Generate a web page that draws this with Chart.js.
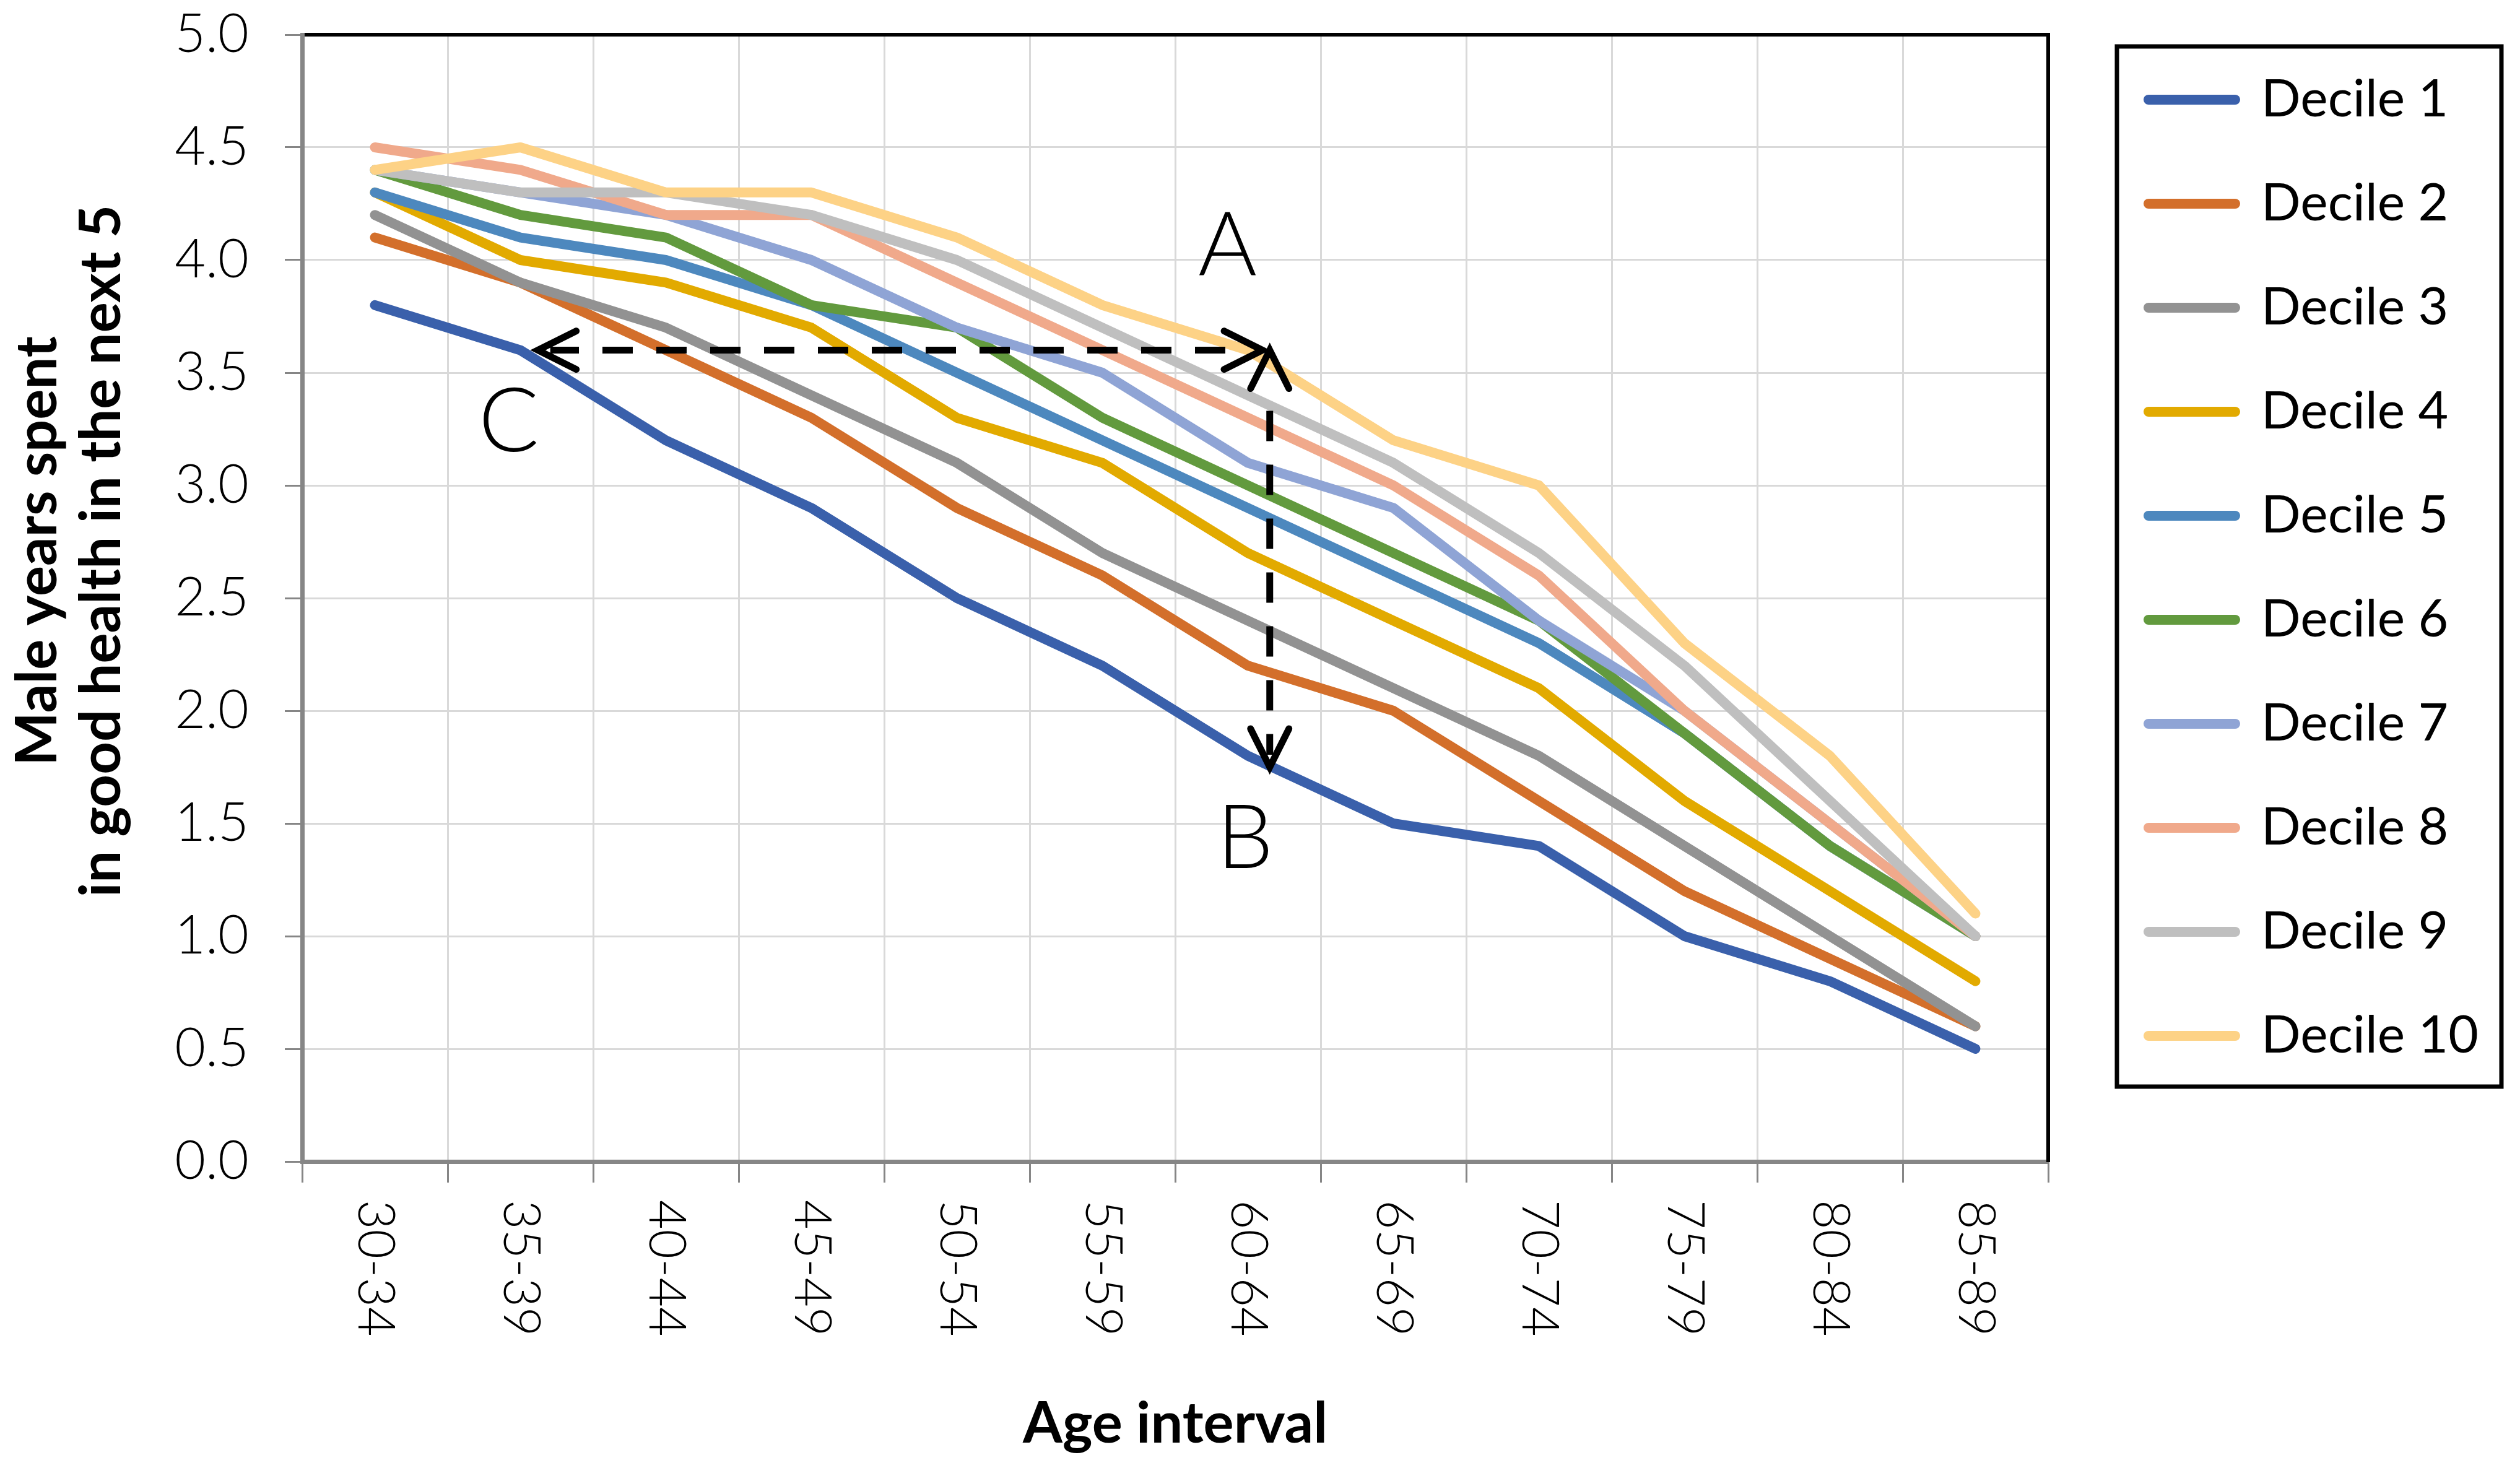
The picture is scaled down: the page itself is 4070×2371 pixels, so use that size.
<!DOCTYPE html>
<html>
<head>
<meta charset="utf-8">
<script src="https://cdn.jsdelivr.net/npm/chart.js@4.4.1/dist/chart.umd.min.js"></script>
<style>
  html, body { margin: 0; padding: 0; background: #fff; }
  canvas { display: block; }
</style>
</head>
<body>
<canvas id="chart" width="4070" height="2371"></canvas>
<script>
// categories and series
const ageIntervals = ["30-34", "35-39", "40-44", "45-49", "50-54", "55-59", "60-64", "65-69", "70-74", "75-79", "80-84", "85-89"];
const seriesNames = ["Decile 1", "Decile 2", "Decile 3", "Decile 4", "Decile 5", "Decile 6", "Decile 7", "Decile 8", "Decile 9", "Decile 10"];

const decile1 = [3.8, 3.6, 3.2, 2.9, 2.5, 2.2, 1.8, 1.5, 1.4, 1.0, 0.8, 0.5];
const decile2 = [4.1, 3.9, 3.6, 3.3, 2.9, 2.6, 2.2, 2.0, 1.6, 1.2, 0.9, 0.6];
const decile3 = [4.2, 3.9, 3.7, 3.4, 3.1, 2.7, 2.4, 2.1, 1.8, 1.4, 1.0, 0.6];
const decile4 = [4.3, 4.0, 3.9, 3.7, 3.3, 3.1, 2.7, 2.4, 2.1, 1.6, 1.2, 0.8];
const decile5 = [4.3, 4.1, 4.0, 3.8, 3.5, 3.2, 2.9, 2.6, 2.3, 1.9, 1.4, 1.0];
const decile6 = [4.4, 4.2, 4.1, 3.8, 3.7, 3.3, 3.0, 2.7, 2.4, 1.9, 1.4, 1.0];
const decile7 = [4.4, 4.3, 4.2, 4.0, 3.7, 3.5, 3.1, 2.9, 2.4, 2.0, 1.5, 1.0];
const decile8 = [4.5, 4.4, 4.2, 4.2, 3.9, 3.6, 3.3, 3.0, 2.6, 2.0, 1.5, 1.0];
const decile9 = [4.4, 4.3, 4.3, 4.2, 4.0, 3.7, 3.4, 3.1, 2.7, 2.2, 1.6, 1.0];
const decile10 = [4.4, 4.5, 4.3, 4.3, 4.1, 3.8, 3.6, 3.2, 3.0, 2.3, 1.8, 1.1];

const yTickValues = [0, 0.5, 1.0, 1.5, 2.0, 2.5, 3.0, 3.5, 4.0, 4.5, 5.0];
const yTitleLines = ["Male years spent", "in good health in the next 5"];

// annotation marks (in data units: category index / years)
const noteArrowLevel = 3.60;
const noteArrowLeft = 1.12;
const noteArrowRight = 6.10;
const noteDropX = 6.15;
const noteDropTop = 3.60;
const noteDropBottom = 1.75;
const noteLetters = ["A", "B", "C"];
const noteLetterX = [5.86, 5.98, 0.92];
const noteLetterY = [4.06, 1.43, 3.28];

const seriesColors = ["#3A60AB", "#D36F2B", "#929292", "#E2AA00", "#4D88BE",
                      "#629A3E", "#8FA4D5", "#F0A98B", "#BFBFBF", "#FDD286"];
const allSeries = [decile1, decile2, decile3, decile4, decile5, decile6, decile7, decile8, decile9, decile10];

const FONT = 'Lato, "Open Sans", sans-serif';
const LEGEND_SIZE = 84;
const LEGEND_GAP = 84;
const LEGEND_LINE = 140;

// work out right padding so the legend lands where it should
const measure = document.createElement("canvas").getContext("2d");
measure.font = `normal 400 ${LEGEND_SIZE}px ${FONT}`;
const longest = Math.max(...seriesNames.map(n => measure.measureText(n).width));
const legendWidth = LEGEND_GAP + LEGEND_LINE + LEGEND_SIZE / 2 + longest + 10;
const rightPad = Math.max(0, 4070 - 3386 - legendWidth);

// Rotated category labels, reading top to bottom
const xLabelPlugin = {
  id: "xLabelPlugin",
  afterDraw: chart => {
    const ctx = chart.ctx;
    const xAxis = chart.scales.x;
    ctx.save();
    ctx.font = `300 82px ${FONT}`;
    ctx.fillStyle = "#000";
    ctx.textAlign = "left";
    ctx.textBaseline = "middle";
    xAxis.ticks.forEach((tick, index) => {
      ctx.save();
      ctx.translate(xAxis.getPixelForTick(index), xAxis.top + 62);
      ctx.rotate(Math.PI / 2);
      ctx.fillText(xAxis.getLabelForValue(tick.value), 0, 0);
      ctx.restore();
    });
    ctx.restore();
  }
};

// Two-line y title, sitting a bit above the middle of the plot like the original
const yTitlePlugin = {
  id: "yTitlePlugin",
  afterDraw: chart => {
    const ctx = chart.ctx;
    ctx.save();
    ctx.font = `bold 92px ${FONT}`;
    ctx.fillStyle = "#000";
    ctx.textAlign = "center";
    ctx.textBaseline = "middle";
    ctx.translate(0, 890);
    ctx.rotate(-Math.PI / 2);
    yTitleLines.forEach((line, i) => ctx.fillText(line, 0, 61 + i * 103));
    ctx.restore();
  }
};

// Frame around the legend
const legendFramePlugin = {
  id: "legendFramePlugin",
  afterDraw: chart => {
    const legend = chart.legend;
    const ctx = chart.ctx;
    const left = legend.left + 33;
    const top = legend.top + 40;
    ctx.save();
    ctx.strokeStyle = "#000";
    ctx.lineWidth = 7;
    ctx.strokeRect(left, top, chart.width - 30 - left, 1680);
    ctx.restore();
  }
};

// Dashed arrows and the A / B / C letters
const notesPlugin = {
  id: "notesPlugin",
  afterDatasetsDraw: chart => {
    const ctx = chart.ctx;
    const xAxis = chart.scales.x;
    const yAxis = chart.scales.y;

    const head = (tx, ty, dx, dy) => {
      // open chevron with tip at (tx, ty), pointing along (dx, dy)
      const len = 62, half = 31;
      const bx = tx - dx * len, by = ty - dy * len;
      ctx.beginPath();
      ctx.moveTo(bx - dy * half, by + dx * half);
      ctx.lineTo(tx, ty);
      ctx.lineTo(bx + dy * half, by - dx * half);
      ctx.stroke();
    };

    ctx.save();
    ctx.strokeStyle = "#000";
    ctx.lineWidth = 11;

    const hy = yAxis.getPixelForValue(noteArrowLevel);
    const hx0 = xAxis.getPixelForValue(noteArrowLeft);
    const hx1 = xAxis.getPixelForValue(noteArrowRight);
    const vx = xAxis.getPixelForValue(noteDropX);
    const vy0 = yAxis.getPixelForValue(noteDropTop);
    const vy1 = yAxis.getPixelForValue(noteDropBottom);

    ctx.setLineDash([49, 38]);
    ctx.lineCap = "butt";
    ctx.beginPath();
    ctx.moveTo(hx1 - 60, hy);
    ctx.lineTo(hx0 + 20, hy);
    ctx.stroke();
    ctx.beginPath();
    ctx.moveTo(vx, vy0 + 98);
    ctx.lineTo(vx, vy1 - 20);
    ctx.stroke();

    ctx.setLineDash([]);
    ctx.lineCap = "round";
    ctx.lineJoin = "miter";
    head(hx0, hy, -1, 0);
    head(hx1, hy, 1, 0);
    head(vx, vy0, 0, -1);
    head(vx, vy1, 0, 1);

    ctx.fillStyle = "#000";
    ctx.font = `300 145px ${FONT}`;
    ctx.textAlign = "center";
    ctx.textBaseline = "middle";
    noteLetters.forEach((letter, i) => {
      ctx.fillText(letter, xAxis.getPixelForValue(noteLetterX[i]), yAxis.getPixelForValue(noteLetterY[i]));
    });
    ctx.restore();
  }
};

Chart.defaults.font.family = FONT;
Chart.defaults.color = "#000";

const hideEdge = (count) => (c) => (c.index === 0 || c.index === count) ? "rgba(0,0,0,0)" : "#D9D9D9";

new Chart(document.getElementById("chart").getContext("2d"), {
  type: "line",
  data: {
    labels: ageIntervals,
    datasets: allSeries.map((values, i) => ({
      label: seriesNames[i],
      data: values,
      borderColor: seriesColors[i],
      backgroundColor: seriesColors[i],
      borderWidth: 16,
      borderCapStyle: "round",
      borderJoinStyle: "round",
      pointRadius: 0,
      pointHoverRadius: 0,
      tension: 0,
      fill: false,
      order: allSeries.length - i // later deciles sit on top
    }))
  },
  options: {
    responsive: false,
    devicePixelRatio: 1,
    animation: false,
    layout: { padding: { top: 35, left: 0, right: rightPad, bottom: 0 } },
    scales: {
      x: {
        type: "category",
        position: "bottom",
        offset: true,
        grid: {
          offset: true,
          color: hideEdge(ageIntervals.length),
          lineWidth: 3,
          tickColor: "#868686",
          tickWidth: 3,
          tickLength: 34
        },
        border: { color: "#868686", width: 7 },
        ticks: { display: false },
        title: {
          display: true,
          text: "Age interval",
          font: { size: 92, weight: "bold", lineHeight: 1.2 },
          padding: { top: 0, bottom: 15 }
        },
        afterFit: scale => { scale.height = 495; }
      },
      x2: {
        type: "category",
        position: "top",
        labels: ageIntervals,
        offset: true,
        grid: { display: false },
        ticks: { display: false },
        border: { color: "#000", width: 6 },
        afterFit: scale => { scale.height = 21; }
      },
      y: {
        type: "linear",
        position: "left",
        min: 0,
        max: 5,
        afterBuildTicks: scale => { scale.ticks = yTickValues.map(v => ({ value: v })); },
        grid: {
          color: c => (c.tick && (c.tick.value === 0 || c.tick.value === 5)) ? "rgba(0,0,0,0)" : "#D9D9D9",
          lineWidth: 3,
          tickColor: "#868686",
          tickWidth: 3,
          tickLength: 28
        },
        border: { color: "#868686", width: 7 },
        ticks: {
          padding: 58,
          font: { size: 86, weight: "300", lineHeight: 1 },
          callback: value => Number(value).toFixed(1)
        },
        afterFit: scale => {
          scale.width = 488;
          // the label gap should not push the plot down
          scale.paddingTop = 0;
          scale.paddingBottom = 0;
        }
      },
      y2: {
        type: "linear",
        position: "right",
        min: 0,
        max: 5,
        grid: { display: false },
        ticks: { display: false },
        border: { color: "#000", width: 6 },
        afterFit: scale => { scale.width = 78; }
      }
    },
    plugins: {
      legend: {
        position: "right",
        align: "start",
        labels: {
          usePointStyle: true,
          pointStyle: "line",
          pointStyleWidth: LEGEND_LINE,
          padding: LEGEND_GAP,
          color: "#000",
          font: { size: LEGEND_SIZE, weight: "400" },
          sort: (a, b) => a.datasetIndex - b.datasetIndex,
          generateLabels: chart =>
            Chart.defaults.plugins.legend.labels.generateLabels(chart).map(item => ({
              ...item, lineCap: "round", lineWidth: 16, strokeStyle: seriesColors[item.datasetIndex]
            }))
        }
      },
      tooltip: { enabled: false }
    }
  },
  plugins: [xLabelPlugin, yTitlePlugin, legendFramePlugin, notesPlugin]
});
</script>
</body>
</html>
